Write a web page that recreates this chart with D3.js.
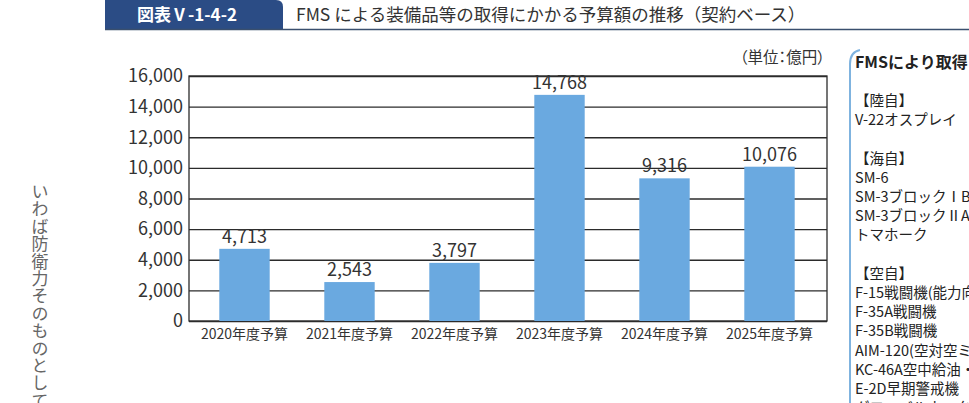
<!DOCTYPE html>
<html lang="ja">
<head>
<meta charset="utf-8">
<script src="https://cdn.jsdelivr.net/npm/d3@7"></script>
<style>
  html, body { margin: 0; padding: 0; background: #fff; overflow: hidden; }
  svg { display: block; font-family: "Noto Sans CJK JP", "Noto Sans", sans-serif; }
  .palt { font-feature-settings: "palt"; }
</style>
</head>
<body>
<svg id="chart"></svg>
<script>
// data
const categories = ["2020年度予算", "2021年度予算", "2022年度予算", "2023年度予算", "2024年度予算", "2025年度予算"];
const budget = [4713, 2543, 3797, 14768, 9316, 10076];
const yTicks = [0, 2000, 4000, 6000, 8000, 10000, 12000, 14000, 16000];

const figNo = "図表Ⅴ-1-4-2";
const title = "FMS による装備品等の取得にかかる予算額の推移（契約ベース）";
const unitLabel = "（単位：億円）";
const sideText = "いわば防衛力そのものとして";
const panelTitle = "FMSにより取得";
const panelLines = ["", "【陸自】", "V-22オスプレイ", "", "【海自】", "SM-6", "SM-3ブロックⅠB",
  "SM-3ブロックⅡA", "トマホーク", "", "【空自】", "F-15戦闘機(能力向上)", "F-35A戦闘機",
  "F-35B戦闘機", "AIM-120(空対空ミサイル)", "KC-46A空中給油・輸送機", "E-2D早期警戒機", "グローバルホーク"];

const width = 969, height = 403;
const svg = d3.select("#chart").attr("width", width).attr("height", height);

const plotLeft = 189, plotRight = 827, plotTop = 76, plotBottom = 321;
const ink = "#2b2b2b";

// header tab + title
svg.append("path")
  .attr("d", `M105,0 H276 Q283,0 283,7 V29 H105 Z`)
  .attr("fill", "#2b4c85");
svg.append("line")
  .attr("x1", 105).attr("x2", width).attr("y1", 29.5).attr("y2", 29.5)
  .attr("stroke", "#3a4f6e").attr("stroke-width", 1.5);
svg.append("text")
  .attr("x", 137).attr("y", 21)
  .attr("fill", "#fff").attr("font-size", 17).attr("font-weight", "bold")
  .text(figNo);
svg.append("text")
  .attr("x", 296).attr("y", 21)
  .attr("fill", "#333").attr("font-size", 17.5)
  .text(title);

// left margin body text (vertical)
svg.append("text")
  .attr("x", 40).attr("y", 183)
  .attr("fill", "#666").attr("font-size", 17)
  .attr("style", "writing-mode: vertical-rl; letter-spacing: 0.4px;")
  .text(sideText);

// scales
const x = d3.scaleBand().domain(categories).range([plotLeft + 3, plotRight - 5])
  .paddingInner(0.52).paddingOuter(0.26);
const y = d3.scaleLinear().domain([0, 16000]).range([plotBottom, plotTop]);

// gridlines + y labels
const yAxis = svg.append("g")
  .attr("transform", `translate(${plotLeft},0)`)
  .call(d3.axisLeft(y).tickValues(yTicks).tickFormat(d3.format(",")).tickSize(-(plotRight - plotLeft)).tickPadding(6));
yAxis.select(".domain").remove();
yAxis.selectAll(".tick line").attr("stroke", ink).attr("stroke-width", 1.3);
yAxis.selectAll(".tick text")
  .attr("fill", "#333").attr("font-size", 18)
  .attr("font-family", "\"Noto Sans CJK JP\", \"Noto Sans\", sans-serif");

// frame
svg.append("rect")
  .attr("x", plotLeft).attr("y", plotTop)
  .attr("width", plotRight - plotLeft).attr("height", plotBottom - plotTop)
  .attr("fill", "none").attr("stroke", ink).attr("stroke-width", 1.3);

// bars
svg.selectAll(".bar")
  .data(budget)
  .enter().append("rect")
    .attr("class", "bar")
    .attr("x", (d, i) => x(categories[i]))
    .attr("width", x.bandwidth())
    .attr("y", d => y(d))
    .attr("height", d => plotBottom - y(d))
    .attr("fill", "#6aa9e0");

// value labels
svg.selectAll(".val")
  .data(budget)
  .enter().append("text")
    .attr("class", "val")
    .attr("x", (d, i) => x(categories[i]) + x.bandwidth() / 2)
    .attr("y", d => y(d) - 6)
    .attr("text-anchor", "middle")
    .attr("fill", "#333").attr("font-size", 18)
    .text(d => d3.format(",")(d));

// x labels
const xAxis = svg.append("g")
  .attr("transform", `translate(0,${plotBottom})`)
  .call(d3.axisBottom(x).tickSize(0).tickPadding(8));
xAxis.select(".domain").remove();
xAxis.selectAll(".tick text")
  .attr("fill", "#333").attr("font-size", 14)
  .attr("font-family", "\"Noto Sans CJK JP\", \"Noto Sans\", sans-serif");

// unit
svg.append("text")
  .attr("class", "palt")
  .attr("x", 825).attr("y", 63)
  .attr("text-anchor", "end")
  .attr("fill", "#333").attr("font-size", 15.5)
  .text(unitLabel);

// right side panel
svg.append("path")
  .attr("d", "M850,403 V64 Q850,52 860,50")
  .attr("fill", "none").attr("stroke", "#7fb3df").attr("stroke-width", 2);
svg.append("text")
  .attr("x", 855).attr("y", 61)
  .attr("dominant-baseline", "central")
  .attr("fill", "#222").attr("font-size", 16).attr("font-weight", "bold")
  .text(panelTitle);
svg.selectAll(".pl")
  .data(panelLines)
  .enter().append("text")
    .attr("class", "pl")
    .attr("x", 855)
    .attr("y", (d, i) => 61 + (i + 1) * 19.2)
    .attr("dominant-baseline", "central")
    .attr("fill", "#222").attr("font-size", 14.5)
    .text(d => d);
</script>
</body>
</html>
